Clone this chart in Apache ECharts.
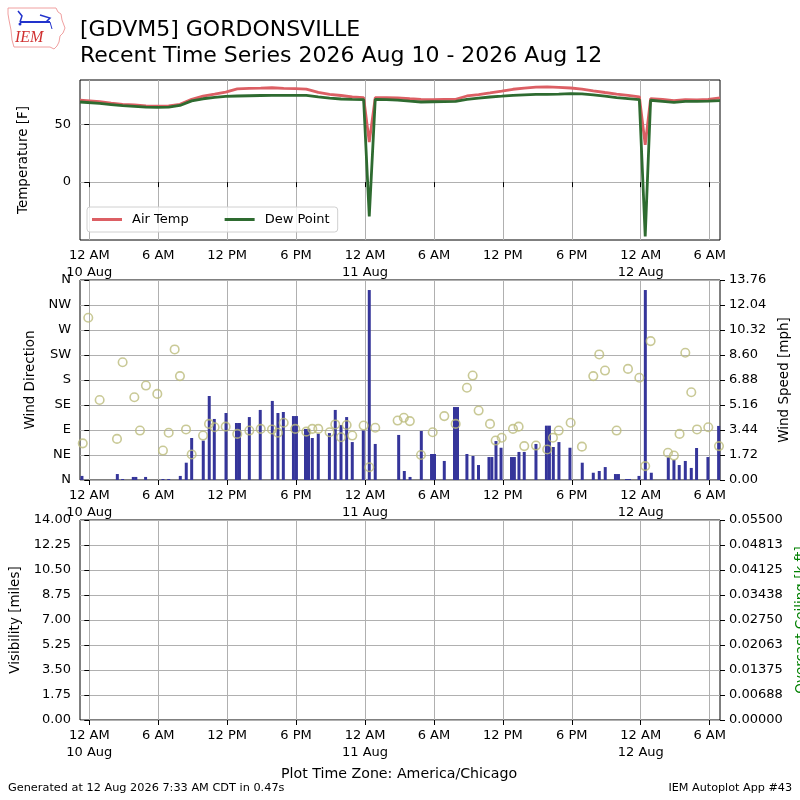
<!DOCTYPE html>
<html><head><meta charset="utf-8">
<script src="https://cdn.jsdelivr.net/npm/echarts@6/dist/echarts.min.js"></script>
<style>html,body{margin:0;padding:0;background:#fff}#c{width:800px;height:800px}</style>
</head><body><div id="c"></div>
<script>
// hours since 12 AM 10 Aug 2026 (America/Chicago)
const tempHours = [-0.81,0.9,1.9,2.9,3.92,4.93,5.92,6.91,7.89,8.91,9.9,10.91,11.87,12.88,13.93,14.92,15.9,16.92,17.93,18.89,19.93,20.92,21.91,22.89,23.88,24.37,24.89,25.87,26.84,27.9,28.87,29.89,30.9,31.89,32.87,33.89,34.88,35.9,36.88,37.86,38.88,39.86,40.86,41.9,42.88,43.87,44.89,45.9,46.89,47.88,48.39,48.86,49.9,50.89,51.88,52.9,53.88,54.9];
const airTemp = [70.7,69.5,68.3,67.2,66.8,65.8,65.6,65.8,67.2,71.5,74.2,76.0,77.8,80.5,81.0,81.2,81.5,80.9,80.7,80.4,77.5,75.8,74.8,73.6,72.9,34.5,72.9,72.9,72.7,72.0,71.5,71.2,71.4,71.5,74.4,75.5,77.0,78.6,80.2,81.2,82.0,82.2,81.8,81.3,80.4,78.9,77.4,76.0,75.0,73.7,32.2,72.1,71.4,70.3,71.2,71.0,71.4,72.7];
const dewPoint = [69.2,68.0,67.0,66.0,65.4,64.7,64.6,64.7,66.2,70.2,72.0,73.2,74.0,74.4,74.6,74.8,75.0,75.0,75.0,75.0,73.6,72.6,71.8,71.4,71.2,-29.7,71.5,71.2,70.9,70.0,69.2,69.4,69.6,69.8,71.5,72.6,73.5,74.2,75.0,75.4,75.7,75.8,76.0,76.4,76.2,75.4,74.2,73.0,72.1,71.2,-46.9,70.7,69.8,68.8,69.8,69.7,70.0,70.4];

const dirHours = [-0.57,-0.09,0.9,2.41,2.9,3.92,4.41,4.93,5.92,6.41,6.91,7.43,7.89,8.42,8.91,9.9,10.42,10.91,11.87,12.88,13.93,14.92,15.9,16.42,16.92,17.93,18.89,19.41,19.93,20.92,21.41,21.91,22.4,22.89,23.88,24.37,24.89,26.84,27.38,27.9,28.87,29.89,30.9,31.89,32.87,33.37,33.89,34.88,35.37,35.9,36.88,37.37,37.86,38.88,39.86,40.36,40.86,41.9,42.88,43.87,44.39,44.89,45.9,46.89,47.88,48.39,48.86,50.37,50.89,51.38,51.88,52.4,52.9,53.88,54.81];
const windDir = [66,292,144,74,212,149,89,170,155,53,85,235,187,91,46,80,101,95,96,83,89,92,91,85,103,92,87,92,92,86,100,77,99,80,98,23,94,107,112,106,45,86,115,101,166,188,125,101,71,76,92,96,61,62,55,76,89,103,60,187,226,197,89,200,184,25,250,49,44,83,229,158,91,95,61];

const speedHours = [-0.64,2.44,2.9,3.83,4.05,4.9,6.41,6.91,7.92,8.44,8.91,9.92,10.44,10.88,11.9,12.81,13.07,13.93,14.88,15.93,16.42,16.89,17.77,18.03,18.82,19.08,19.41,19.93,20.9,21.41,21.91,22.4,22.89,23.85,24.37,24.89,26.93,27.42,27.92,28.9,29.79,30.05,30.9,31.79,32.05,32.87,33.4,33.88,34.79,35.04,35.4,35.84,36.75,37.0,37.4,37.86,38.88,39.79,40.05,40.39,40.88,41.84,42.91,43.87,44.39,44.91,45.8,46.06,46.76,47.02,47.85,48.4,48.92,50.4,50.89,51.35,51.88,52.4,52.86,53.85,54.78];
const windSpeed = [0.28,0.41,0.07,0.21,0.21,0.21,0.07,0.07,0.28,1.19,2.89,2.71,5.78,4.2,4.61,3.92,3.92,4.33,4.82,5.44,4.61,4.68,4.40,4.40,3.51,3.51,2.89,3.19,3.23,4.82,3.78,4.33,2.61,3.42,13.07,2.48,3.1,0.62,0.21,3.37,1.79,1.79,1.31,5.02,5.02,1.79,1.65,1.03,1.58,1.58,2.68,2.22,1.58,1.58,1.93,1.93,2.48,3.74,3.74,2.27,2.61,2.22,1.19,0.5,0.62,0.89,0.41,0.41,0.07,0.07,0.28,13.07,0.5,1.56,1.38,1.03,1.31,0.83,2.2,1.58,3.72];

const xTickHours = [0,6,12,18,24,30,36,42,48,54];
const xTickLabels = ['12 AM\n10 Aug','6 AM','12 PM','6 PM','12 AM\n11 Aug','6 AM','12 PM','6 PM','12 AM\n12 Aug','6 AM'];
const tempTicks = [0,50];
const dirTickLabels = ['N','NE','E','SE','S','SW','W','NW','N'];
const speedTickLabels = ['0.00','1.72','3.44','5.16','6.88','8.60','10.32','12.04','13.76'];
const visTickLabels = ['0.00','1.75','3.50','5.25','7.00','8.75','10.50','12.25','14.00'];
const ceilTickLabels = ['0.00000','0.00688','0.01375','0.02063','0.02750','0.03438','0.04125','0.04813','0.05500'];

const FONT = 'DejaVu Sans';
const gridLine = {show:true, lineStyle:{color:'#b0b0b0', width:1}};
const tick = {show:true, length:5, lineStyle:{color:'#000', width:1}};
const lbl = {fontFamily:FONT, fontSize:13, color:'#000'};

function makeX(g){
  return {type:'value', gridIndex:g, min:-0.81, max:54.9,
    axisLine:{show:false},
    axisTick:Object.assign({customValues:xTickHours}, tick),
    axisLabel:Object.assign({customValues:xTickHours, lineHeight:17, margin:7,
      formatter:v=>{const i=xTickHours.indexOf(Math.round(v)); return i>=0?xTickLabels[i]:'';}}, lbl),
    splitLine:gridLine};
}
function nameStyle(color){return {fontFamily:FONT, fontSize:13.5, color:color||'#000'};}
function makeGrid(top, h){
  return {left:80, top:top, width:640, height:h, show:true, borderColor:'#000', borderWidth:1,
    containLabel:false, outerBoundsMode:'none'};
}

const option = {
  animation:false,
  backgroundColor:'#fff',
  grid:[makeGrid(80,160), makeGrid(280,200), makeGrid(520,200)],
  legend:{data:['Air Temp','Dew Point'], left:87, top:207, icon:'rect', itemWidth:30, itemHeight:3,
    itemGap:36, padding:[6,8,6,5], borderColor:'#d0d0d0', borderWidth:1, borderRadius:3,
    backgroundColor:'rgba(255,255,255,0.8)',
    textStyle:{fontFamily:FONT, fontSize:13, color:'#000', padding:[0,0,0,5]}},
  xAxis:[makeX(0), makeX(1), makeX(2)],
  yAxis:[
    {type:'value', gridIndex:0, min:-50, max:88.2, interval:50,
     axisLine:{show:false}, axisTick:Object.assign({customValues:tempTicks}, tick),
     axisLabel:Object.assign({customValues:tempTicks, margin:9, formatter:v=>String(v)}, lbl),
     splitLine:gridLine, name:'Temperature [F]', nameLocation:'middle', nameGap:50, nameRotate:90,
     nameTextStyle:nameStyle()},
    {type:'value', gridIndex:1, min:0, max:360, interval:45, position:'left',
     axisLine:{show:false}, axisTick:tick,
     axisLabel:Object.assign({margin:9, formatter:v=>dirTickLabels[Math.round(v/45)]}, lbl),
     splitLine:gridLine, name:'Wind Direction', nameLocation:'middle', nameGap:39, nameRotate:90,
     nameTextStyle:nameStyle()},
    {type:'value', gridIndex:1, min:0, max:13.76, interval:1.72, position:'right',
     axisLine:{show:false}, axisTick:tick,
     axisLabel:Object.assign({margin:9, formatter:v=>speedTickLabels[Math.round(v/1.72)]}, lbl),
     splitLine:{show:false}, name:'Wind Speed [mph]', nameLocation:'middle', nameGap:53, nameRotate:90,
     nameTextStyle:nameStyle()},
    {type:'value', gridIndex:2, min:0, max:14, interval:1.75, position:'left',
     axisLine:{show:false}, axisTick:tick,
     axisLabel:Object.assign({margin:9, formatter:v=>visTickLabels[Math.round(v/1.75)]}, lbl),
     splitLine:gridLine, name:'Visibility [miles]', nameLocation:'middle', nameGap:55, nameRotate:90,
     nameTextStyle:nameStyle()},
    {type:'value', gridIndex:2, min:0, max:0.055, interval:0.006875, position:'right',
     axisLine:{show:false}, axisTick:tick,
     axisLabel:Object.assign({margin:9, formatter:v=>ceilTickLabels[Math.round(v/0.006875)]}, lbl),
     splitLine:{show:false}, name:'Overcast Ceiling [k ft]', nameLocation:'middle', nameGap:74, nameRotate:90,
     nameTextStyle:nameStyle('#008000')}
  ],
  series:[
    {name:'Air Temp', type:'line', xAxisIndex:0, yAxisIndex:0, showSymbol:false, symbol:'none',
     data:tempHours.map((h,i)=>[h,airTemp[i]]), lineStyle:{color:'#dc5f64', width:2.8},
     itemStyle:{color:'#dc5f64'}, z:3},
    {name:'Dew Point', type:'line', xAxisIndex:0, yAxisIndex:0, showSymbol:false, symbol:'none',
     data:tempHours.map((h,i)=>[h,dewPoint[i]]), lineStyle:{color:'#2e6b30', width:2.8},
     itemStyle:{color:'#2e6b30'}, z:4},
    {name:'Wind Speed', type:'bar', xAxisIndex:1, yAxisIndex:2, barWidth:3,
     data:speedHours.map((h,i)=>[h,windSpeed[i]]), itemStyle:{color:'#35359a'}, z:2},
    {name:'Wind Direction', type:'scatter', xAxisIndex:1, yAxisIndex:1, symbol:'circle', symbolSize:8.5,
     data:dirHours.map((h,i)=>[h,windDir[i]]),
     itemStyle:{color:'rgba(0,0,0,0)', borderColor:'#bcbc7c', borderWidth:1.6}, z:5}
  ],
  graphic:[
    {type:'text', left:80, top:19, style:{text:'[GDVM5] GORDONSVILLE', font:'22px "DejaVu Sans"', fill:'#000'}},
    {type:'text', left:80, top:45, style:{text:'Recent Time Series 2026 Aug 10 - 2026 Aug 12', font:'22px "DejaVu Sans"', fill:'#000'}},
    {type:'polyline', shape:{points:[[8,8],[56,8],[58,12],[61,14],[62,20],[65,28],[63,33],[60,36],[59,42],[57,46],[54,49],[50,47],[14,47],[12,40],[11,30],[9,20],[8,14],[8,8]]},
     style:{stroke:'#f0a0a0', lineWidth:1, fill:null}},
    {type:'polyline', shape:{points:[[20,22],[50,22]]}, style:{stroke:'#2233cc', lineWidth:2}},
    {type:'polyline', shape:{points:[[18,11],[22,16],[20,22]]}, style:{stroke:'#2233cc', lineWidth:1.5}},
    {type:'polyline', shape:{points:[[40,15],[50,18],[46,22]]}, style:{stroke:'#2233cc', lineWidth:1.5}},
    {type:'polyline', shape:{points:[[50,22],[52,29]]}, style:{stroke:'#2233cc', lineWidth:1}},
    {type:'circle', shape:{cx:20, cy:24, r:1.5}, style:{fill:'#2233cc'}},
    {type:'text', left:15, top:30, style:{text:'IEM', font:'italic 16px "Liberation Serif"', fill:'#d03030'}},
    {type:'text', left:281, top:767, style:{text:'Plot Time Zone: America/Chicago', font:'14.2px "DejaVu Sans"', fill:'#000'}},
    {type:'text', left:8, top:783, style:{text:'Generated at 12 Aug 2026 7:33 AM CDT in 0.47s', font:'11.3px "DejaVu Sans"', fill:'#000'}},
    {type:'text', right:8, top:783, style:{text:'IEM Autoplot App #43', font:'11.2px "DejaVu Sans"', fill:'#000'}}
  ]
};
const chart = echarts.init(document.getElementById('c'));
chart.setOption(option);
</script></body></html>
